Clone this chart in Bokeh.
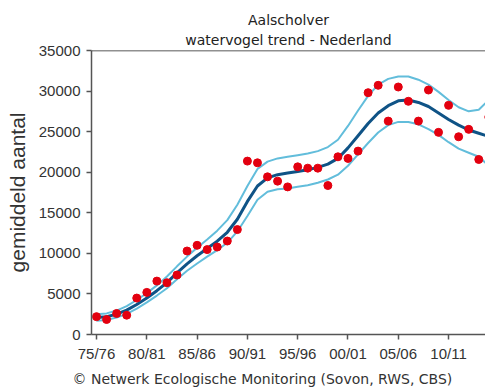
from bokeh.plotting import figure
from bokeh.models import ColumnDataSource, Span, Title, FixedTicker, Range1d
from bokeh.embed import file_html
from bokeh.resources import INLINE

# ---- data ----
years = list(range(1975, 2015))
counts = [2200, 1850, 2590, 2380, 4490, 5190, 6580, 6380, 7330, 10290,
          10990, 10460, 10780, 11520, 12930, 21370, 21160, 19430, 18900, 18190,
          20660, 20500, 20500, 18360, 21900, 21700, 22600, 29800, 30710, 26300,
          30500, 28740, 26300, 30130, 24910, 28240, 24370, 25280, 21570, 26800]
trend = [2100, 2200, 2500, 3000, 3700, 4500, 5400, 6400, 7600, 8700,
         9700, 10600, 11500, 12600, 14200, 16400, 18300, 19300, 19700, 19900,
         20100, 20300, 20600, 21000, 21700, 23000, 24500, 26000, 27300, 28200,
         28800, 28900, 28600, 28100, 27300, 26500, 25800, 25200, 24800, 24400]
upper = [2500, 2600, 2950, 3500, 4250, 5100, 6050, 7150, 8400, 9600,
         10700, 11700, 12800, 14100, 16000, 18300, 20400, 21300, 21700, 21900,
         22100, 22300, 22600, 23100, 24000, 25700, 27600, 29400, 30800, 31500,
         31800, 31800, 31400, 30800, 29900, 28900, 28000, 27500, 27700, 28900]
lower = [1700, 1800, 2100, 2550, 3200, 3950, 4800, 5700, 6800, 7850,
         8750, 9600, 10400, 11300, 12700, 14600, 16600, 17600, 17900, 18000,
         18200, 18400, 18700, 19100, 19700, 20800, 22200, 23600, 24900, 25800,
         26200, 26200, 25900, 25300, 24600, 23700, 22900, 22400, 21900, 20800]
tick_years = [1975, 1980, 1985, 1990, 1995, 2000, 2005, 2010]
tick_labels = ["75/76", "80/81", "85/86", "90/91", "95/96", "00/01", "05/06", "10/11"]
y_ticks = [0, 5000, 10000, 15000, 20000, 25000, 30000, 35000]

title_1 = "Aalscholver"
title_2 = "watervogel trend - Nederland"
y_label = "gemiddeld aantal"
credit = "\u00a9 Netwerk Ecologische Monitoring (Sovon, RWS, CBS)"

src = ColumnDataSource(dict(year=years, count=counts, trend=trend, upper=upper, lower=lower))

p = figure(width=485, height=392, output_backend="svg", toolbar_location=None,
           x_range=Range1d(1974.5, 2013.67), y_range=Range1d(0, 35000),
           min_border_left=91, min_border_right=0, min_border_top=50, min_border_bottom=58)
p.background_fill_color = "white"
p.border_fill_color = "white"
p.outline_line_color = None
p.grid.visible = False

p.line("year", "upper", source=src, line_color="#62bddb", line_width=2)
p.line("year", "lower", source=src, line_color="#62bddb", line_width=2)
p.line("year", "trend", source=src, line_color="#0f5386", line_width=3)
p.scatter("year", "count", source=src, size=8, fill_color="#e3000f", line_color="#e3000f")

p.add_layout(Span(location=35000, dimension="width", line_color="#222222", line_width=1.5))

ax = p.xaxis[0]
ax.ticker = FixedTicker(ticks=tick_years)
ax.major_label_overrides = {y: l for y, l in zip(tick_years, tick_labels)}
ay = p.yaxis[0]
ay.ticker = FixedTicker(ticks=y_ticks)

for a in (ax, ay):
    a.axis_line_color = "#555555"
    a.axis_line_width = 1.5
    a.major_tick_line_color = "#555555"
    a.major_tick_line_width = 1.5
    a.major_tick_in = 0
    a.major_tick_out = 5
    a.minor_tick_line_color = None
    a.major_label_text_font = "Liberation Sans"
    a.major_label_text_font_size = "15px"
    a.major_label_text_color = "#333333"
ax.major_label_standoff = 5
ay.major_label_standoff = 6

ay.axis_label = y_label
ay.axis_label_text_font = "Liberation Sans"
ay.axis_label_text_font_size = "21px"
ay.axis_label_text_font_style = "normal"
ay.axis_label_text_color = "#333333"
ay.axis_label_standoff = 7

p.add_layout(Title(text=title_2, align="center", text_font="DejaVu Sans", text_font_size="14px",
                   text_font_style="normal", text_color="#222222", standoff=5), "above")
p.add_layout(Title(text=title_1, align="center", text_font="DejaVu Sans", text_font_size="14px",
                   text_font_style="normal", text_color="#222222", standoff=0), "above")
p.add_layout(Title(text=credit, align="left", offset=-19, text_font="DejaVu Sans", text_font_size="14px",
                   text_font_style="normal", text_color="#333333", standoff=9), "below")

open("out.html", "w").write(file_html(p, INLINE))
